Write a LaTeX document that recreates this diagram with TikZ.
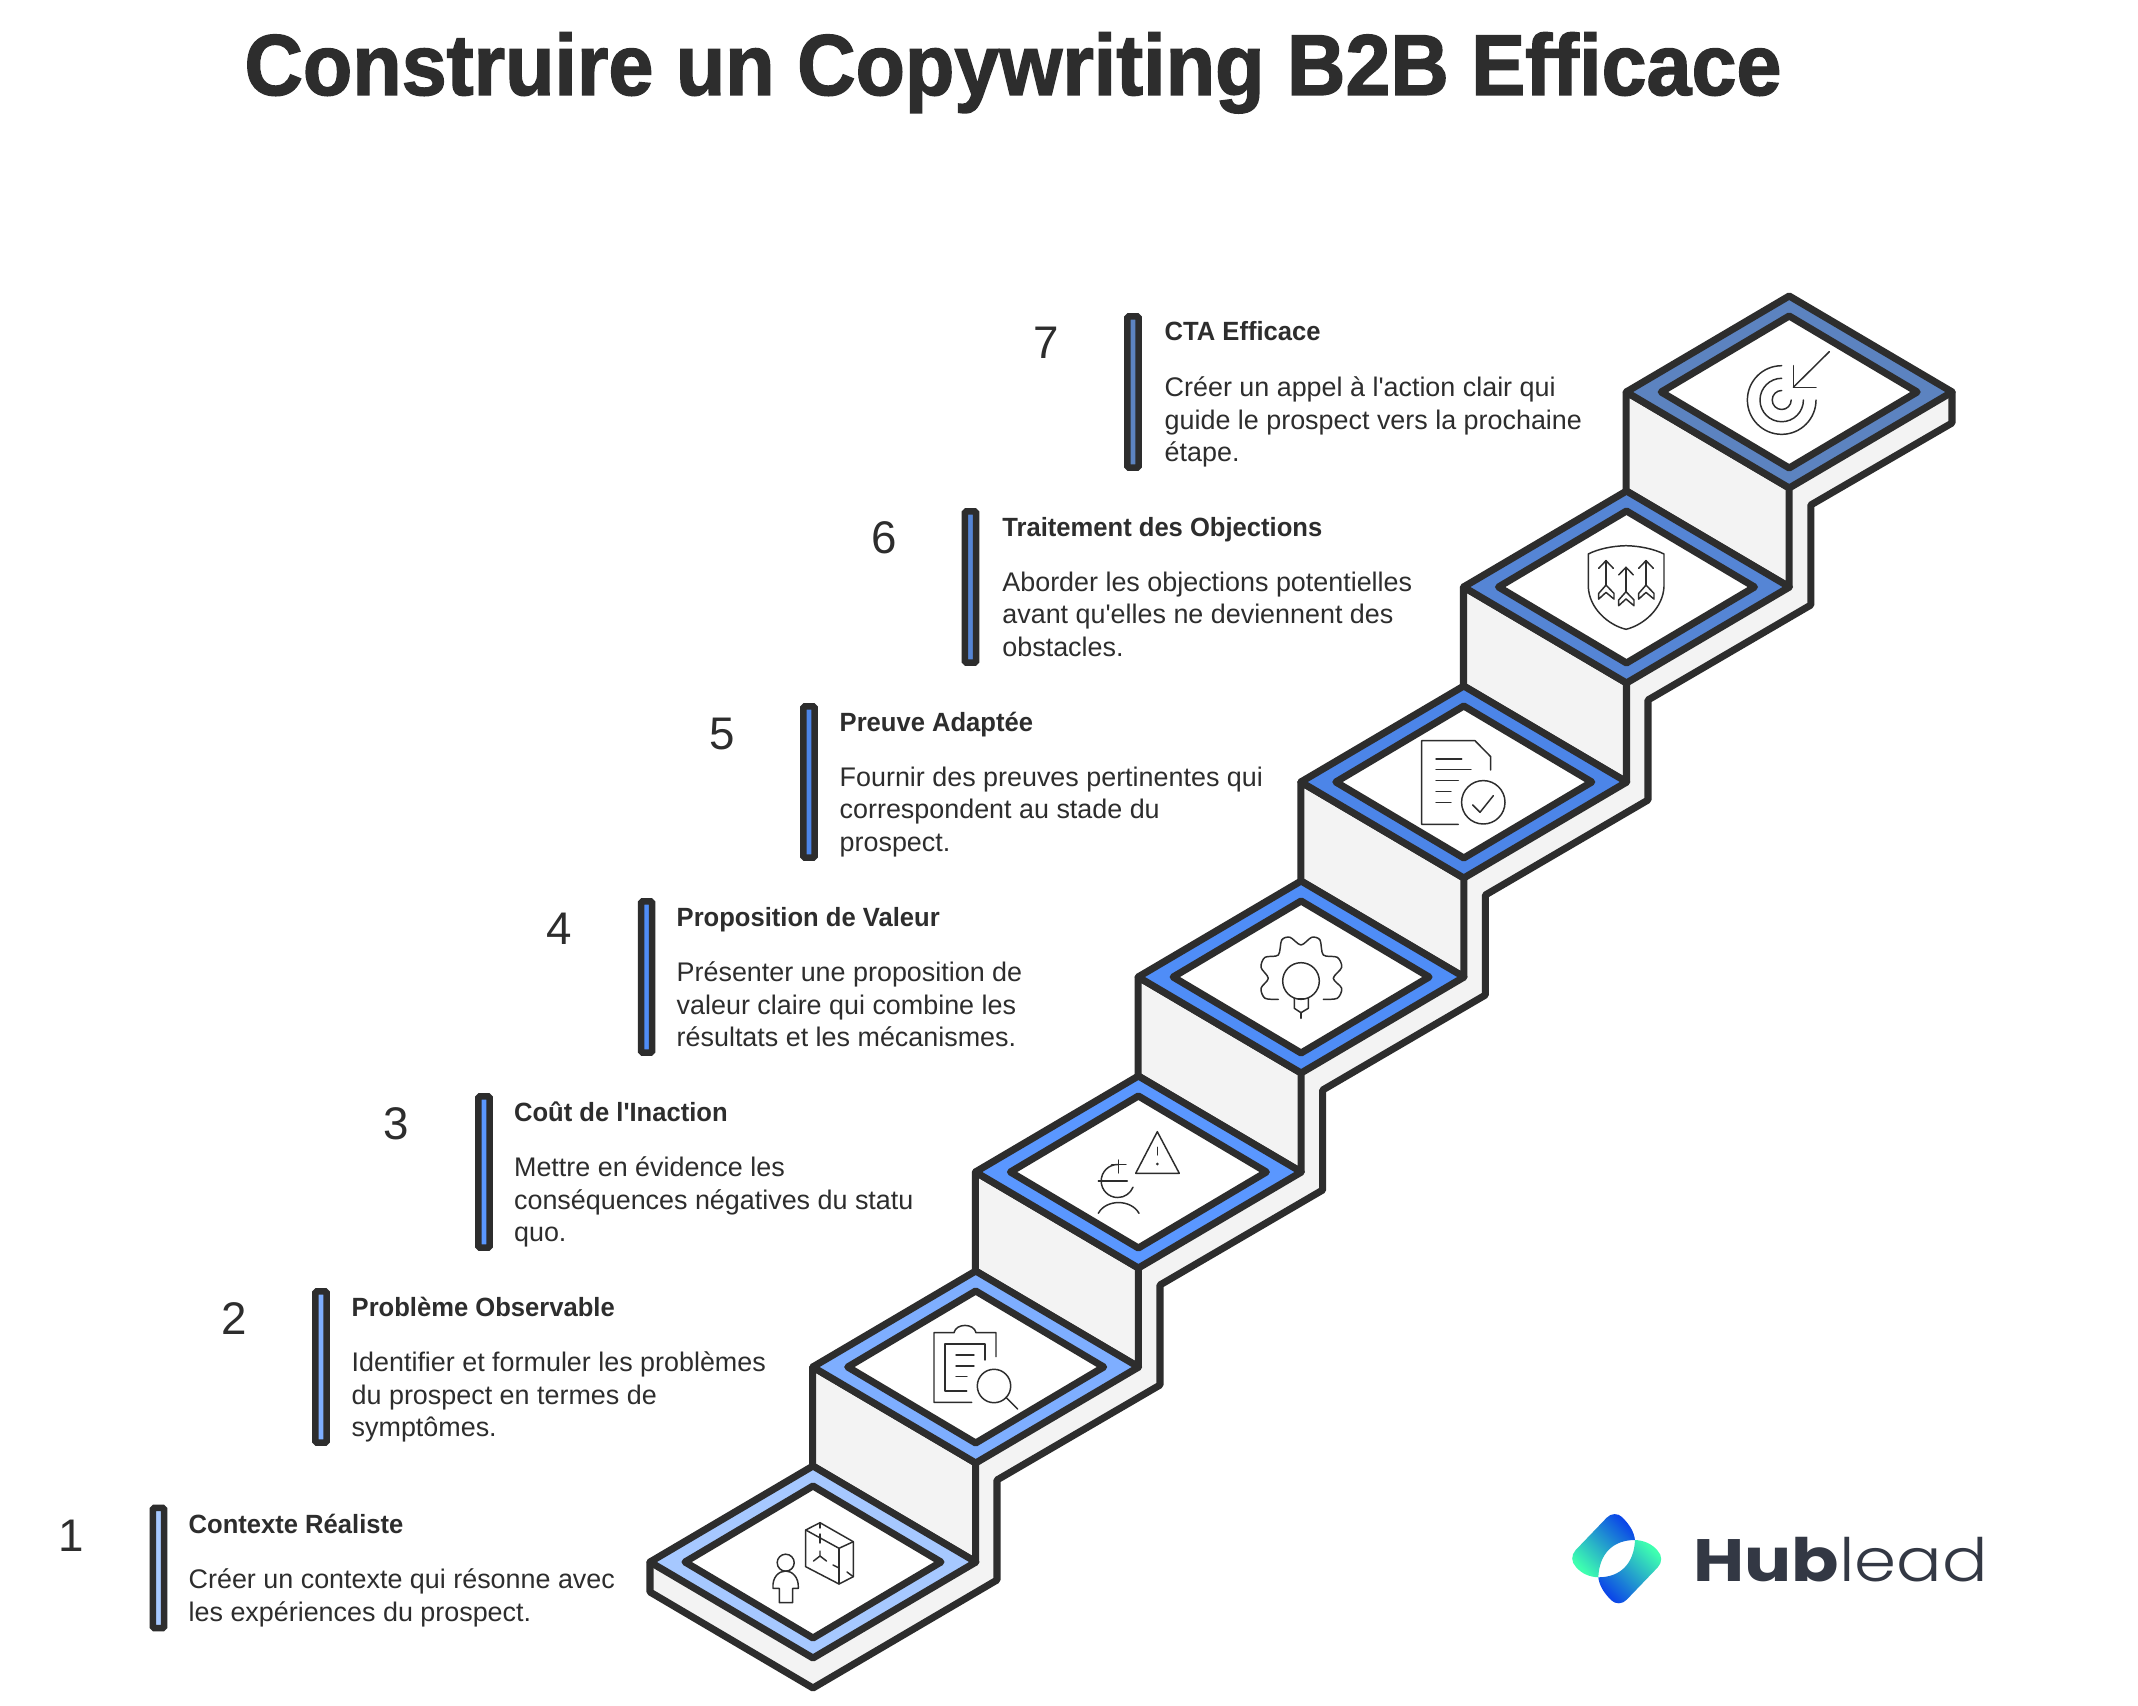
\documentclass[tikz,border=0pt]{standalone}
\usepackage{fontspec}
\setmainfont{Liberation Sans}
\newfontfamily\titlefont[FakeBold=1.6, FakeStretch=0.935]{Liberation Sans Bold}
\newfontfamily\headfont[FakeStretch=0.97]{Liberation Sans Bold}
\newfontfamily\notefont{Liberation Sans}
\newfontfamily\hubfont[FakeStretch=1.17]{Poppins Bold}
\newfontfamily\leadfont[FakeStretch=1.13]{Poppins Light}
\definecolor{inkdark}{HTML}{2D2D2D}
\definecolor{logoink}{HTML}{333844}
\definecolor{logoblue}{HTML}{0B46E8}
\definecolor{logogreen}{HTML}{3EFFB0}
\definecolor{sidegray}{HTML}{F3F3F3}
\definecolor{stepa}{HTML}{A6C8FF}
\definecolor{stepb}{HTML}{7EAEFF}
\definecolor{stepc}{HTML}{5A97FF}
\definecolor{stepd}{HTML}{4F8DF7}
\definecolor{stepe}{HTML}{4C85E8}
\definecolor{stepf}{HTML}{5585D5}
\definecolor{stepg}{HTML}{5C83C0}
\tikzset{
  stairline/.style={draw=inkdark, line width=2pt, line join=round},
  iconline/.style={draw=inkdark, line width=0.42pt, line cap=round, line join=round},
  notebar/.style={draw=inkdark, line width=1.85pt, rounded corners=0.4pt, minimum width=0.111cm, minimum height=1.51cm, inner sep=0pt},
  notehead/.style={anchor=base west, inner sep=0pt, text=inkdark, font=\headfont\fontsize{7.5}{9.3}\selectfont},
  notebody/.style={anchor=north west, inner sep=0pt, align=left, text=inkdark, font=\notefont\fontsize{7.65}{9.3}\selectfont, execute at begin node=\strut},
  notenum/.style={anchor=base, inner sep=0pt, text=inkdark, font=\fontsize{13}{13}\selectfont},
  riser/.pic={\draw[stairline, fill=sidegray] (-163,0) -- (0,96) -- (0,195) -- (-163,99) -- cycle;},
  stairtop/.pic={
    \draw[stairline, fill=#1] (-163,0) -- (0,-96) -- (163,0) -- (0,96) -- cycle;
    \draw[stairline, fill=white] (-128,0) -- (0,-76) -- (128,0) -- (0,76) -- cycle;
  },
  shieldarrow/.pic={
    \draw[iconline] (0,0) -- (0,24.4);
    \draw[iconline] (-7.3,7.6) -- (0,0) -- (7.3,7.6);
    \draw[iconline] (0,24.4) -- (8,32.7) -- (8,38.4) -- (0,31.7) -- (-7.3,38.4) -- (-7.3,32.7) -- cycle;
  },
}
\begin{document}
\begin{tikzpicture}[x=0.01cm, y=-0.01cm]
  \path[use as bounding box, fill=white] (0,0) rectangle (2138,1706);
  \node[anchor=base, inner sep=0pt, text=inkdark, font=\titlefont\fontsize{24.6}{26}\selectfont] (title) at (1013,95) {Construire un Copywriting B2B Efficace};

  % side of the stairs
  \draw[stairline, fill=sidegray] (1789,392) -- (1952,392) -- (1952,423) -- (1810.8,505) -- (1810.8,605) -- (1648,700) -- (1648,800) -- (1485.4,895) -- (1485.4,995) -- (1322.7,1090) -- (1322.7,1190) -- (1160,1285) -- (1160,1385) -- (997,1480) -- (997,1580) -- (813,1688) -- (650,1592) -- (650,1562) -- (813,1562);
  \pic at (975.7,1367) {riser};
  \pic at (1138.4,1172) {riser};
  \pic at (1301.1,977) {riser};
  \pic at (1463.8,782) {riser};
  \pic at (1626.5,587) {riser};
  \pic at (1789.2,392) {riser};
  \pic at (813,1562) {stairtop={stepa}};
  \pic at (975.7,1367) {stairtop={stepb}};
  \pic at (1138.4,1172) {stairtop={stepc}};
  \pic at (1301.1,977) {stairtop={stepd}};
  \pic at (1463.8,782) {stairtop={stepe}};
  \pic at (1626.5,587) {stairtop={stepf}};
  \pic at (1789.2,392) {stairtop={stepg}};

  % step 1
  \node[notenum] (num1) at (71,1551) {1};
  \node[notebar, fill=stepa, minimum height=1.2cm] (bar1) at (158.5,1568) {};
  \node[notehead] (head1) at (188,1533) {Contexte Réaliste};
  \node[notebody] (body1) at (188,1568) {Créer un contexte qui résonne avec\\les expériences du prospect.};
  \draw[iconline] (785.7,1562.7) circle[radius=0.085cm];
  \draw[iconline] (779.3,1602.7) -- (779.3,1588.3) -- (773,1588.3) .. controls (772,1577) and (779,1571) .. (785.7,1571) .. controls (792,1571) and (799,1577) .. (798.3,1588.3) -- (792.7,1588.3) -- (792.7,1602.7) -- cycle;
  \draw[iconline] (820,1522.7) -- (805.7,1530) -- (805.7,1566.7) -- (839,1584) -- (853.3,1576.7) -- (853.3,1541.7) -- cycle;
  \draw[iconline] (805.7,1530) -- (839,1548.3) -- (853.3,1541.7);
  \draw[iconline] (839,1548.3) -- (839,1584);
  \draw[iconline] (820,1522.7) -- (820,1528);
  \draw[iconline] (820,1534) -- (820,1543);
  \draw[iconline] (820,1551) -- (820,1556) (820,1556) -- (813.5,1561) (820,1556) -- (826.5,1561);
  \draw[iconline] (833,1565) -- (839,1568);
  \draw[iconline] (847,1572) -- (853.3,1576.7);

  % step 2
  \node[notenum] (num2) at (234,1334) {2};
  \node[notebar, fill=stepb] (bar2) at (321,1367) {};
  \node[notehead] (head2) at (351,1316) {Problème Observable};
  \node[notebody] (body2) at (351,1351) {Identifier et formuler les problèmes\\du prospect en termes de\\symptômes.};
  \draw[iconline] (971.7,1402.3) -- (934,1402.3) -- (934,1332.7) -- (954,1332.7) .. controls (956,1323) and (974,1323) .. (976,1332.7) -- (996,1332.7) -- (996,1356.7);
  \draw[iconline] (966.7,1391) -- (945,1391) -- (945,1344) -- (985,1344) -- (985,1360);
  \draw[iconline] (956,1355) -- (974,1355);
  \draw[iconline] (956,1366) -- (974,1366);
  \draw[iconline] (956,1376.7) -- (967,1376.7);
  \draw[iconline] (994,1386) circle[radius=0.167cm];
  \draw[iconline] (1006,1397.3) -- (1017.7,1409);

  % step 3
  \node[notenum] (num3) at (396,1139) {3};
  \node[notebar, fill=stepc] (bar3) at (484,1172) {};
  \node[notehead] (head3) at (513.4,1121) {Coût de l'Inaction};
  \node[notebody] (body3) at (513.4,1156) {Mettre en évidence les\\conséquences négatives du statu\\quo.};
  \draw[iconline] (1157.3,1131.7) -- (1135.7,1173.3) -- (1179.3,1173.3) -- cycle;
  \draw[iconline] (1157.3,1147.3) -- (1157.3,1155);
  \fill[inkdark] (1157.3,1164) circle[radius=0.015cm];
  \draw[iconline] (1117.7,1164.5) arc[start angle=90, end angle=338, radius=0.165cm];
  \draw[iconline] (1098.3,1181) -- (1127.3,1181);
  \draw[iconline] (1118.3,1160) -- (1118.3,1173);
  \draw[iconline] (1111.7,1164.3) -- (1126,1164.3);
  \draw[iconline] (1098.3,1213.3) .. controls (1106,1199) and (1131,1199) .. (1139,1213.3);

  % step 4
  \node[notenum] (num4) at (559,944) {4};
  \node[notebar, fill=stepd] (bar4) at (646.6,977) {};
  \node[notehead] (head4) at (676,926) {Proposition de Valeur};
  \node[notebody] (body4) at (676,961) {Présenter une proposition de\\valeur claire qui combine les\\résultats et les mécanismes.};
  \draw[iconline] (1301,981) circle[radius=0.183cm];
  \draw[iconline] (1294.3,998.3) -- (1294.3,1008.3) -- (1301,1012.7) -- (1308.3,1008.3) -- (1308.3,998.3);
  \draw[iconline] (1294.3,998.3) -- (1308.3,998.3);
  \draw[iconline] (1301,1012.7) -- (1301,1018.3);
  \draw[iconline] plot[smooth] coordinates {(1278.3,999.3) (1265,998.3) (1261,988.3) (1268.3,978.3) (1261,967.3) (1265,957.3) (1278.3,955) (1281.7,940) (1290,937.3) (1301,945) (1311.7,937.3) (1320,940) (1323.3,955) (1337.3,957.3) (1341.7,967.3) (1333.3,978.3) (1341.7,988.3) (1337.3,998.3) (1323.3,999.3)};

  % step 5
  \node[notenum] (num5) at (722,749) {5};
  \node[notebar, fill=stepe] (bar5) at (809,782) {};
  \node[notehead] (head5) at (839,731) {Preuve Adaptée};
  \node[notebody] (body5) at (839,766) {Fournir des preuves pertinentes qui\\correspondent au stade du\\prospect.};
  \draw[iconline] (1458.3,824.3) -- (1421.7,824.3) -- (1421.7,740.7) -- (1475,740.7) -- (1490.7,756.7) -- (1490.7,770);
  \draw[iconline] (1436,759) -- (1461.7,759);
  \draw[iconline] (1436,769.7) -- (1471,769.7);
  \draw[iconline] (1436,780.7) -- (1458.3,780.7);
  \draw[iconline] (1436,791.7) -- (1451,791.7);
  \draw[iconline] (1436,802.7) -- (1451,802.7);
  \draw[iconline] (1483.3,802.3) circle[radius=0.217cm];
  \draw[iconline] (1472.7,805) -- (1480,812.3) -- (1493.3,795.7);

  % step 6
  \node[notenum] (num6) at (884,554) {6};
  \node[notebar, fill=stepf] (bar6) at (970.5,587) {};
  \node[notehead] (head6) at (1001.7,536) {Traitement des Objections};
  \node[notebody] (body6) at (1001.7,571) {Aborder les objections potentielles\\avant qu'elles ne deviennent des\\obstacles.};
  \draw[iconline] (1626,545.7) .. controls (1612,546) and (1598,549) .. (1588.3,554) -- (1588.3,586.7) .. controls (1589,608) and (1608,625) .. (1626,629.3) .. controls (1644,625) and (1663,608) .. (1664,586.7) -- (1664,554) .. controls (1654,549) and (1640,546) .. (1626,545.7) -- cycle;
  \pic at (1606,560.7) {shieldarrow};
  \pic at (1626,567.3) {shieldarrow};
  \pic at (1646,560.7) {shieldarrow};

  % step 7
  \node[notenum] (num7) at (1046,359) {7};
  \node[notebar, fill=stepg] (bar7) at (1133,392) {};
  \node[notehead] (head7) at (1164,341) {CTA Efficace};
  \node[notebody] (body7) at (1164,376) {Créer un appel à l'action clair qui\\guide le prospect vers la prochaine\\étape.};
  \draw[iconline] (1781.7,365.7) arc[start angle=90, end angle=360, radius=0.343cm];
  \draw[iconline] (1781.7,378.3) arc[start angle=90, end angle=360, radius=0.217cm];
  \draw[iconline] (1781.7,390.5) arc[start angle=90, end angle=360, radius=0.095cm];
  \draw[iconline] (1829.3,351.7) -- (1793.3,387.3);
  \draw[iconline] (1793.3,365.7) -- (1793.3,387.3) -- (1816,387.3);

  % logo
  \shade[bottom color=logogreen, top color=logoblue, shading angle=-45] (1635,1540) .. controls (1634,1532) and (1630,1525) .. (1622,1517) .. controls (1618,1513) and (1611,1513) .. (1606.7,1517.7) -- (1575.7,1550) .. controls (1571,1555) and (1571,1562) .. (1576,1567) .. controls (1582,1574) and (1590,1577) .. (1598.3,1577.3) .. controls (1599.3,1553.3) and (1613.3,1540) .. (1635,1540) -- cycle;
  \shade[bottom color=logogreen, top color=logoblue, shading angle=135] (1598.3,1577.3) .. controls (1599.3,1585.4) and (1603.4,1592.4) .. (1611.4,1600.4) .. controls (1615.4,1604.4) and (1622.4,1604.4) .. (1626.7,1599.7) -- (1657.7,1567.4) .. controls (1662.4,1562.4) and (1662.4,1555.4) .. (1657.4,1550.4) .. controls (1651.4,1543.4) and (1643.4,1540.4) .. (1635,1540) .. controls (1634,1564.1) and (1620,1577.3) .. (1598.3,1577.3) -- cycle;
  \node[anchor=base west, inner sep=0pt, text=logoink, font=\fontsize{17}{17}\selectfont] (logotext) at (1693,1581) {{\hubfont Hub}{\leadfont lead}};
\end{tikzpicture}
\end{document}
